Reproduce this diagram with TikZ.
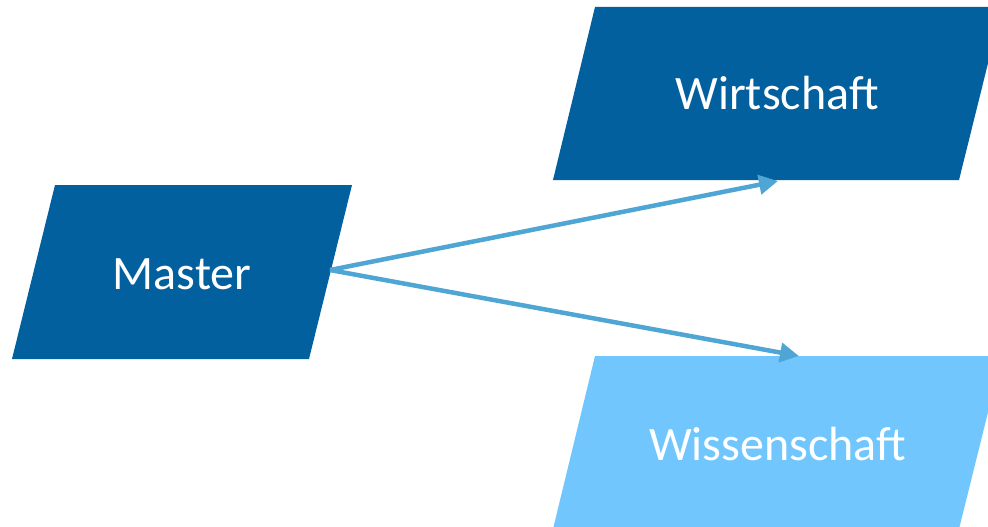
\documentclass[tikz,border=0pt]{standalone}
\usepackage{fontspec}
\setmainfont{Carlito}
\usetikzlibrary{arrows.meta}
\definecolor{darkblu}{HTML}{02609F}
\definecolor{lightblu}{HTML}{71C7FD}
\definecolor{arrowblu}{HTML}{4FA6D5}
\begin{document}
\begin{tikzpicture}[x=1pt,y=-1pt,
  label text/.style={text=white,font=\fontsize{48}{56}\selectfont,inner sep=0pt,anchor=base},
  conn/.style={draw=arrowblu,line width=4.5pt,-{Triangle[length=19pt,width=19pt]}}]
\useasboundingbox (0,0) rectangle (988,527);
\begin{scope}
\clip (0,0) rectangle (988,527);
\fill[darkblu] (55,185) -- (352,185) -- (309,359) -- (12,359) -- cycle;
\fill[darkblu] (595,7) -- (1002,7) -- (959,180) -- (553,180) -- cycle;
\fill[lightblu] (595,356) -- (1002,356) -- (959,529) -- (553,529) -- cycle;
\end{scope}
\node[label text] (master) at (182,289) {Master};
\node[label text] (wirt) at (777,110) {Wirtschaft};
\node[label text] (wiss) at (777.5,460) {Wissenschaft};
\coordinate (mout) at (330,270);
\coordinate (wirtin) at (778,181);
\coordinate (wissin) at (799,356);
\draw[conn] (mout) -- (wirtin);
\draw[conn] (mout) -- (wissin);
\end{tikzpicture}
\end{document}
